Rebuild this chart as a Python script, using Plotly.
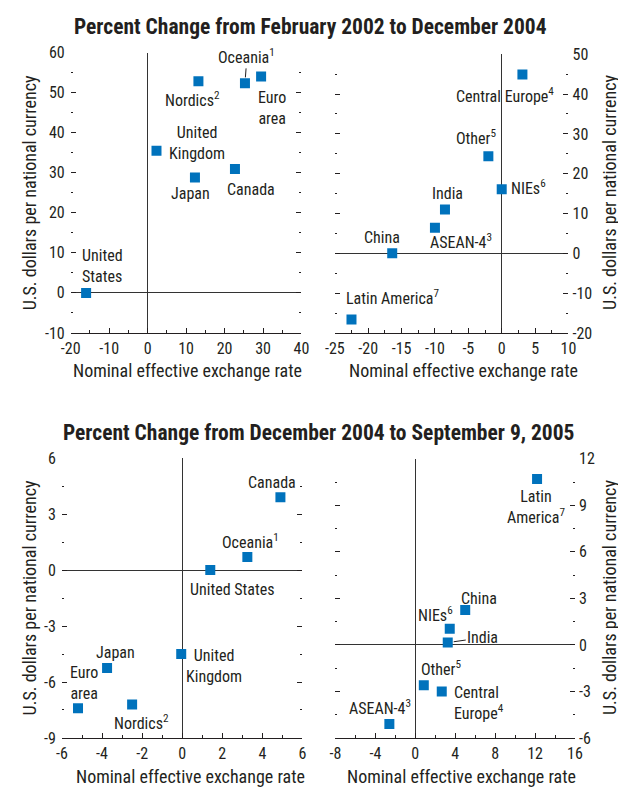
import plotly.graph_objects as go

# ---------------- data ----------------
tl_names = ["United States", "Nordics", "Oceania", "Euro area", "United Kingdom", "Japan", "Canada"]
tl_neer = [-16.0, 13.2, 25.3, 29.5, 2.3, 12.3, 22.7]
tl_usd = [0.0, 52.8, 52.3, 54.0, 35.5, 28.8, 30.9]
tl_labels = ["United<br>States", "Nordics<sup>2</sup>", "Oceania<sup>1</sup>", "Euro<br>area",
             "United<br>Kingdom", "Japan", "Canada"]

tr_names = ["Central Europe", "Other", "NIEs", "India", "ASEAN-4", "China", "Latin America"]
tr_neer = [3.1, -2.0, 0.0, -8.5, -10.0, -16.4, -22.5]
tr_usd = [44.9, 24.4, 16.1, 11.0, 6.4, 0.0, -16.6]
tr_labels = ["Central Europe<sup>4</sup>", "Other<sup>5</sup>", "NIEs<sup>6</sup>", "India",
             "ASEAN-4<sup>3</sup>", "China", "Latin America<sup>7</sup>"]

bl_names = ["Canada", "Oceania", "United States", "United Kingdom", "Japan", "Euro area", "Nordics"]
bl_neer = [4.9, 3.25, 1.4, -0.05, -3.75, -5.2, -2.5]
bl_usd = [3.9, 0.7, 0.0, -4.5, -5.25, -7.4, -7.2]
bl_labels = ["Canada", "Oceania<sup>1</sup>", "United States", "United<br>Kingdom", "Japan",
             "Euro<br>area", "Nordics<sup>2</sup>"]

br_names = ["Latin America", "China", "NIEs", "India", "Other", "Central Europe", "ASEAN-4"]
br_neer = [12.2, 5.0, 3.45, 3.25, 0.85, 2.65, -2.6]
br_usd = [10.7, 2.25, 1.05, 0.15, -2.6, -3.0, -5.1]
br_labels = ["Latin<br>America<sup>7</sup>", "China", "NIEs<sup>6</sup>", "India", "Other<sup>5</sup>",
             "Central<br>Europe<sup>4</sup>", "ASEAN-4<sup>3</sup>"]

tl_xticks = [-20, -10, 0, 10, 20, 30, 40]
tl_yticks = [-10, 0, 10, 20, 30, 40, 50, 60]
tr_xticks = [-25, -20, -15, -10, -5, 0, 5, 10]
tr_yticks = [-20, -10, 0, 10, 20, 30, 40, 50]
bl_xticks = [-6, -4, -2, 0, 2, 4, 6]
bl_yticks = [-9, -6, -3, 0, 3, 6]
br_xticks = [-8, -4, 0, 4, 8, 12, 16]
br_yticks = [-6, -3, 0, 3, 6, 9, 12]

title_top = "Percent Change from February 2002 to December 2004"
title_bottom = "Percent Change from December 2004 to September 9, 2005"
x_title = "Nominal effective exchange rate"
y_title = "U.S. dollars per national currency"

# ---------------- style ----------------
OFF = 8                      # page body margin of the browser
W, H = 626 - OFF, 800 - OFF
FONT = "Roboto Condensed, Liberation Sans, sans-serif"
TXT = "#231f20"
BLUE = "#0072bc"
LBL = 16

def px2x(p):
    return (p - OFF) / W

def px2y(p):
    return 1 - (p - OFF) / H

panels = [
    dict(names=tl_names, x=tl_neer, y=tl_usd, labels=tl_labels, xt=tl_xticks, yt=tl_yticks,
         xminor=5, yminor=5, side="left", xd=(62.3, 300), yd=(331.7, 44.4),
         offs=[(16, -27, "left"), (-6, 18, "center"), (2, -27, "arrow"), (11, 31, "center"),
               (41, -8, "center"), (-4, 16, "center"), (16, 20, "center")],
         xtitle=(183, 370), ytitle=(20, 188)),
    dict(names=tr_names, x=tr_neer, y=tr_usd, labels=tr_labels, xt=tr_xticks, yt=tr_yticks,
         xminor=2.5, yminor=5, side="right", xd=(334.3, 575), yd=(331.7, 46.2),
         offs=[(-17, 21, "center"), (-12, -19, "center"), (27, -2, "center"), (3, -16, "center"),
               (26, 14, "center"), (-10, -16, "center"), (41, -22, "center")],
         xtitle=(467, 370), ytitle=(617, 188)),
    dict(names=bl_names, x=bl_neer, y=bl_usd, labels=bl_labels, xt=bl_xticks, yt=bl_yticks,
         xminor=1, yminor=1.5, side="left", xd=(53.3, 301), yd=(746.7, 460),
         offs=[(-8, -15, "center"), (3, -16, "center"), (22, 19, "center"), (33, 12, "center"),
               (8, -16, "center"), (6, -25, "center"), (9, 18, "center")],
         xtitle=(186, 786), ytitle=(20, 603)),
    dict(names=br_names, x=br_neer, y=br_usd, labels=br_labels, xt=br_xticks, yt=br_yticks,
         xminor=2, yminor=1.5, side="right", xd=(335, 581.7), yd=(746.7, 460.7),
         offs=[(-1, 28, "center"), (14, -12, "center"), (-14, -14, "center"), (35, -5, "arrow"),
               (17, -17, "center"), (37, 12, "left"), (-9, -17, "center")],
         xtitle=(465, 786), ytitle=(617, 603)),
]

fig = go.Figure()
annotations = []

for i, p in enumerate(panels, start=1):
    sfx = "" if i == 1 else str(i)
    xa, ya = "x" + sfx, "y" + sfx
    fig.add_trace(go.Scatter(
        x=p["x"], y=p["y"], mode="markers", text=p["names"], hoverinfo="text",
        marker=dict(symbol="square", size=10, color=BLUE, line=dict(width=0)),
        xaxis=xa, yaxis=ya, showlegend=False))

    xt, yt = p["xt"], p["yt"]
    fig.layout["xaxis" + sfx] = dict(
        domain=[px2x(p["xd"][0]), px2x(p["xd"][1])], anchor=ya,
        range=[xt[0], xt[-1]], tickmode="array", tickvals=xt, ticktext=[str(v) for v in xt],
        ticks="inside", ticklen=5, tickcolor="#231f20", tickwidth=1,
        minor=dict(dtick=p["xminor"], tick0=0, ticks="inside", ticklen=3, tickcolor="#231f20"),
        showline=True, linecolor="#231f20", linewidth=1, ticklabelstandoff=1,
        showgrid=False, zeroline=True, zerolinecolor="#333333", zerolinewidth=1,
        tickfont=dict(family=FONT, size=16, color=TXT), fixedrange=True)
    fig.layout["yaxis" + sfx] = dict(
        domain=[px2y(p["yd"][0]), px2y(p["yd"][1])], anchor=xa, side=p["side"],
        range=[yt[0], yt[-1]], tickmode="array", tickvals=yt, ticktext=[str(v) for v in yt],
        ticks="inside", ticklen=5, tickcolor="#231f20", tickwidth=1, mirror="ticks",
        ticklabelstandoff=5 if p["side"] == "left" else 3,
        minor=dict(dtick=p["yminor"], tick0=0, ticks="inside", ticklen=2, tickcolor="#231f20"),
        showline=False, showgrid=False, zeroline=True, zerolinecolor="#333333", zerolinewidth=1,
        tickfont=dict(family=FONT, size=16, color=TXT), fixedrange=True)

    for xv, yv, lab, (dx, dy, mode) in zip(p["x"], p["y"], p["labels"], p["offs"]):
        if mode == "arrow":
            annotations.append(dict(
                x=xv, y=yv, xref=xa, yref=ya, text=lab, showarrow=True, arrowhead=0,
                arrowwidth=1, arrowcolor="#231f20", ax=dx, ay=dy, standoff=6,
                font=dict(family=FONT, size=LBL, color=TXT)))
        else:
            annotations.append(dict(
                x=xv, y=yv, xref=xa, yref=ya, text=lab, showarrow=False,
                xanchor="center", yanchor="middle", xshift=dx, yshift=-dy,
                align=mode, font=dict(family=FONT, size=LBL, color=TXT)))

    annotations.append(dict(
        x=px2x(p["xtitle"][0]), y=px2y(p["xtitle"][1]), xref="paper", yref="paper",
        text=x_title, showarrow=False, xanchor="center", yanchor="middle",
        font=dict(family=FONT, size=18, color=TXT)))
    annotations.append(dict(
        x=px2x(p["ytitle"][0]), y=px2y(p["ytitle"][1]), xref="paper", yref="paper",
        text=y_title, showarrow=False, xanchor="center", yanchor="middle", textangle=-90,
        font=dict(family=FONT, size=18, color=TXT)))

annotations.append(dict(
    x=px2x(309), y=px2y(18), xref="paper", yref="paper", text="<b>" + title_top + "</b>",
    showarrow=False, xanchor="center", yanchor="middle",
    font=dict(family=FONT, size=21.5, color=TXT)))
annotations.append(dict(
    x=px2x(317), y=px2y(434), xref="paper", yref="paper", text="<b>" + title_bottom + "</b>",
    showarrow=False, xanchor="center", yanchor="middle",
    font=dict(family=FONT, size=21.5, color=TXT)))

fig.update_layout(
    width=W, height=H, margin=dict(l=0, r=0, t=0, b=0),
    paper_bgcolor="white", plot_bgcolor="white",
    annotations=annotations, showlegend=False,
    font=dict(family=FONT, color=TXT))

fig.write_html("out.html", config={"displayModeBar": False})
